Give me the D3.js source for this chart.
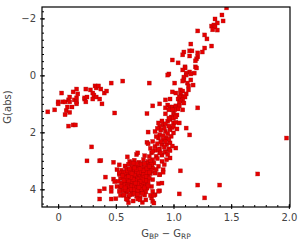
<!DOCTYPE html>
<html>
<head>
<meta charset="utf-8">
<script src="https://cdn.jsdelivr.net/npm/d3@7"></script>
<style>
body { margin: 0; background: #fff; }
svg text { font-family: "DejaVu Sans", sans-serif; fill: #444; }
</style>
</head>
<body>
<svg width="300" height="240"></svg>
<script>
"use strict";

// [G_BP - G_RP, G(abs)]
var horizontalBranch = [
    [-0.09,1.28],[-0.03,1.21],[0.00,0.93],[0.00,1.00],[0.03,0.62],[0.04,0.93],[0.06,0.93],[0.06,1.38],
    [0.07,1.24],[0.08,1.11],[0.09,0.86],[0.09,1.78],[0.10,1.30],[0.10,0.93],[0.10,0.76],[0.12,1.11],
    [0.13,0.58],[0.13,1.74],[0.15,1.74],[0.14,0.86],[0.16,0.48],[0.16,0.79],[0.16,0.93],[0.16,1.00],
    [0.17,0.65],[0.23,0.83],[0.23,0.79],[0.24,0.48],[0.24,0.93],[0.25,0.76],[0.28,0.51],[0.30,0.62],
    [0.30,0.83],[0.31,0.69],[0.32,0.37],[0.33,0.44],[0.35,0.37],[0.33,0.76],[0.36,0.83],[0.37,0.48],
    [0.38,1.00],[0.40,0.62],[0.42,0.55],[0.46,0.27],[0.49,1.32],[0.56,0.20],[0.77,1.34],[0.79,0.27],
    [0.78,1.99]
];

var giants = [
    [1.46,-2.37],[1.42,-2.12],[1.36,-1.98],[1.43,-1.91],[1.38,-1.84],[1.33,-1.73],[1.35,-1.77],[1.36,-1.70],
    [1.34,-1.60],[1.38,-1.59],[1.21,-1.56],[1.27,-1.42],[1.29,-1.28],[1.15,-1.10],[1.33,-1.03],[1.27,-0.96],
    [1.14,-0.86],[1.16,-0.86],[1.09,-0.82],[1.21,-0.79],[1.25,-0.82],[1.08,-0.72],[1.14,-0.68],[1.21,-0.65],
    [1.20,-0.58],[1.19,-0.51],[0.99,-0.54],[1.04,-0.44],[1.10,-0.30],[1.10,-0.26],[1.19,-0.30],[1.20,-0.26],
    [1.08,-0.19],[1.14,-0.12],[1.18,-0.08],[1.15,-0.05],[1.11,-0.08],[1.11,-0.01],[0.96,-0.05],[0.95,-0.01],
    [1.09,0.06],[1.09,0.16],[1.08,0.20],[1.15,0.16],[1.01,0.27],[1.12,0.27],[1.13,0.37],[1.17,0.34],
    [1.13,0.51],[1.06,0.51],[1.08,0.55],[0.99,0.58],[1.02,0.62],[1.11,0.65],[1.06,0.65],[1.07,0.72],
    [1.08,0.76],[1.05,0.76],[1.10,0.76],[1.04,0.83],[1.08,0.86],[1.06,0.90],[0.93,0.86],[0.97,0.83],
    [1.09,0.97],[0.88,1.00],[0.82,1.07],[0.95,1.04],[0.97,1.11],[0.99,1.11],[1.02,1.07],[1.05,0.97],
    [1.05,1.07],[1.02,1.14],[1.04,1.18],[1.01,1.21],[1.08,1.21],[0.93,1.14],[0.96,1.21],[0.99,1.21],
    [0.93,1.35],[1.00,1.35],[1.01,1.39],[1.03,1.39],[0.98,1.46],[0.96,1.50],[1.00,1.50],[1.02,1.46]
];

var mainSeq = [
    [0.95,1.61],[0.97,1.55],[1.00,1.67],[1.02,1.65],[1.05,1.67],[0.91,1.73],[0.88,1.79],[0.87,1.67],
    [0.84,1.97],[0.93,1.97],[0.97,1.91],[1.00,2.02],[0.98,2.14],[0.94,2.20],[0.91,2.26],[0.88,2.08],
    [0.87,2.20],[0.82,2.32],[0.84,2.49],[0.90,2.43],[0.94,2.43],[0.97,2.37],[1.02,2.55],[0.93,2.67],
    [0.88,2.72],[0.85,2.84],[0.81,2.72],[0.82,2.96],[0.90,3.02],[0.94,2.96],[0.97,2.90],[0.87,3.19],
    [0.91,3.31],[0.81,3.19],[0.84,3.43],[0.88,3.48],[0.82,3.66],[0.87,3.80],[0.81,3.90],[0.82,4.07],
    [0.88,4.05],[0.84,4.19],[0.81,4.30],[0.82,4.42],
    [0.90,1.60],[0.93,1.70],[0.96,1.78],[0.99,1.83],[0.92,1.85],[0.89,1.92],[0.95,2.05],[0.91,2.12],
    [0.85,2.15],[0.96,2.25],[0.89,2.33],[0.86,2.40],[0.92,2.52],[0.88,2.58],[0.84,2.63],[0.80,2.56],
    [0.96,2.58],[0.90,2.80],[0.86,2.92],[0.79,2.85],[0.83,3.08],[0.92,3.13],[0.78,3.02],[0.85,3.30],
    [0.80,3.38],[1.00,1.78],[1.03,1.88],[0.86,1.86],[0.93,2.33],[0.99,2.48]
];

var turnoff = [
    [0.62,3.02],[0.66,2.98],[0.70,3.05],[0.74,2.96],[0.77,3.08],[0.80,3.00],[0.72,3.10],
    [0.58,3.18],[0.61,3.12],[0.64,3.22],[0.67,3.15],[0.70,3.20],[0.72,3.14],[0.75,3.23],[0.78,3.16],[0.81,3.12],
    [0.55,3.33],[0.59,3.28],[0.62,3.36],[0.64,3.30],[0.66,3.38],[0.69,3.27],[0.71,3.35],[0.73,3.29],
    [0.76,3.37],[0.79,3.31],[0.82,3.26],
    [0.53,3.47],[0.56,3.42],[0.59,3.51],[0.61,3.44],[0.63,3.53],[0.65,3.46],[0.67,3.41],[0.69,3.50],
    [0.71,3.44],[0.73,3.52],[0.75,3.43],[0.78,3.49],[0.80,3.45],
    [0.54,3.62],[0.57,3.58],[0.60,3.66],[0.62,3.57],[0.64,3.64],[0.66,3.60],[0.68,3.68],[0.70,3.56],
    [0.72,3.63],[0.74,3.59],[0.77,3.67],[0.79,3.61],
    [0.55,3.78],[0.58,3.72],[0.60,3.82],[0.62,3.75],[0.64,3.80],[0.66,3.73],[0.68,3.83],[0.70,3.76],
    [0.72,3.71],[0.75,3.81],[0.78,3.74],
    [0.54,3.93],[0.57,3.88],[0.60,3.97],[0.62,3.90],[0.65,3.95],[0.67,3.87],[0.69,3.99],[0.71,3.92],
    [0.74,3.86],[0.77,3.96],
    [0.56,4.05],[0.59,4.11],[0.62,4.03],[0.64,4.13],[0.67,4.07],[0.70,4.12],[0.73,4.04],[0.76,4.09],
    [0.57,4.21],[0.61,4.27],[0.64,4.18],[0.68,4.24],[0.71,4.29],[0.75,4.20],
    [0.60,4.36],[0.65,4.41],[0.69,4.34],[0.73,4.46],
    [0.63,3.49],[0.65,3.55],[0.67,3.62],[0.69,3.57],[0.66,3.70],[0.68,3.76],[0.64,3.69],[0.70,3.66],
    [0.71,3.53],[0.67,3.51],[0.65,3.84],[0.69,3.87],[0.62,3.61],[0.72,3.79],[0.68,3.45],[0.66,3.48],
    [0.70,3.70],[0.63,3.78],[0.67,3.93],[0.61,3.85],
    [0.75,2.82],[0.82,2.67],[0.87,2.61],[0.89,2.72],[0.93,2.70],[0.95,2.78],[0.97,2.64],[0.90,3.78],
    [0.88,3.49],[0.91,3.40],[0.71,4.37],[0.76,4.37],[0.80,4.21],[0.83,4.21],[0.87,4.07],[0.83,4.48],
    [0.51,3.31],[0.53,3.42],[0.52,3.72],[0.55,3.89],[0.53,4.07],[0.57,4.19],[0.59,4.34],[0.64,3.07],
    [0.58,3.40],[0.60,3.35],[0.63,3.40],[0.66,3.33],[0.68,3.38],[0.70,3.42],[0.72,3.40],[0.74,3.47],
    [0.77,3.42],[0.76,3.55],[0.73,3.58],[0.71,3.61],[0.69,3.64],[0.67,3.70],[0.65,3.75],[0.63,3.72],
    [0.61,3.70],[0.59,3.60],[0.57,3.68],[0.56,3.52],[0.58,3.85],[0.60,3.90],[0.62,3.95],[0.64,3.88],
    [0.66,3.91],[0.68,3.95],[0.70,3.85],[0.72,3.87],[0.74,3.75],[0.76,3.70],[0.73,3.67],[0.71,3.73],
    [0.69,3.80],[0.67,3.78],[0.65,3.65],[0.63,3.58],[0.61,3.55],[0.64,3.45],[0.68,3.30],[0.74,3.33],
    [0.77,3.28],[0.79,3.20],[0.81,3.35],[0.79,3.40],[0.63,4.00],[0.66,4.02],[0.69,4.05],[0.72,4.00],
    [0.60,4.05],[0.58,4.00],[0.66,4.15],[0.62,4.20],[0.69,4.18],[0.73,4.15],[0.58,3.95],[0.70,3.93],
    [0.75,3.95],[0.78,3.88],[0.66,3.25],[0.62,3.28],[0.71,3.28],[0.75,3.10],[0.68,3.10],[0.65,3.08]
];

var field = [
    [0.29,2.51],[0.25,3.00],[0.36,3.00],[0.37,2.99],[0.48,3.05],[0.60,2.86],[0.53,3.14],[0.41,3.57],
    [0.48,3.64],[0.49,3.73],[0.36,4.06],[0.40,3.98],[0.46,3.93],[0.46,4.07],[0.36,4.34],[0.46,4.34],
    [0.50,4.33],[0.51,3.90],[0.61,4.47],[0.54,4.21],[0.68,2.78],[0.69,2.72],[0.77,2.35],[0.78,2.40],
    [1.98,2.20],[1.11,1.85],[1.14,2.09],[1.06,3.35],[1.73,3.46],[1.21,3.85],[1.40,3.85],[1.05,4.16],
    [1.27,4.30],[1.21,1.14]
];

var xTicks = [0, 0.5, 1.0, 1.5, 2.0];
var yTicks = [-2, 0, 2, 4];

var margin = {top: 7, right: 10, bottom: 33, left: 42};
var width = 300 - margin.left - margin.right;
var height = 240 - margin.top - margin.bottom;

var svg = d3.select("svg");
var g = svg.append("g").attr("transform", "translate(" + margin.left + "," + margin.top + ")");

var x = d3.scaleLinear().domain([-0.14, 2.01]).range([0, width]);
var y = d3.scaleLinear().domain([-2.4, 4.62]).range([0, height]);

g.append("clipPath").attr("id", "plotclip")
    .append("rect").attr("width", width).attr("height", height);

var stars = [].concat(horizontalBranch, field, mainSeq, giants, turnoff);
var size = 4;

g.append("g").attr("clip-path", "url(#plotclip)")
    .selectAll("rect")
    .data(stars)
    .enter().append("rect")
    .attr("x", function(d) { return x(d[0]) - size / 2; })
    .attr("y", function(d) { return y(d[1]) - size / 2; })
    .attr("width", size)
    .attr("height", size)
    .attr("fill", "#e60000")
    .attr("stroke", "#a00000")
    .attr("stroke-opacity", 0.6)
    .attr("stroke-width", 0.5);

// minor ticks, inward
g.append("g")
    .attr("transform", "translate(0," + height + ")")
    .call(d3.axisBottom(x).tickValues(d3.range(-0.1, 2.01, 0.1)).tickSize(-2).tickFormat(""))
    .call(function(a) { a.select(".domain").remove(); });

g.append("g")
    .call(d3.axisLeft(y).tickValues(d3.range(-2.25, 4.62, 0.25)).tickSize(-2).tickFormat(""))
    .call(function(a) { a.select(".domain").remove(); });

// major ticks, crossing the spine
var xAxis = g.append("g")
    .attr("transform", "translate(0," + height + ")")
    .call(d3.axisBottom(x).tickValues(xTicks).tickSize(2).tickPadding(5)
        .tickFormat(function(d) { return d === 0 ? "0" : d3.format(".1f")(d); }));
xAxis.select(".domain").remove();
xAxis.selectAll(".tick line").attr("y1", -3);

var yAxis = g.append("g")
    .call(d3.axisLeft(y).tickValues(yTicks).tickSize(2).tickPadding(4).tickFormat(d3.format("d")));
yAxis.select(".domain").remove();
yAxis.selectAll(".tick line").attr("x1", 3);

g.selectAll(".tick line").attr("stroke", "#000");
g.selectAll(".tick text").attr("font-size", 10).attr("font-family", null).attr("fill", "#444");

g.append("rect")
    .attr("width", width)
    .attr("height", height)
    .attr("fill", "none")
    .attr("stroke", "#000")
    .attr("stroke-width", 1.2);

svg.append("text")
    .attr("transform", "translate(11," + (margin.top + height / 2) + ") rotate(-90)")
    .attr("text-anchor", "middle")
    .attr("font-size", 10)
    .text("G(abs)");

var xl = svg.append("text")
    .attr("x", margin.left + width / 2)
    .attr("y", 236.5)
    .attr("text-anchor", "middle")
    .attr("font-size", 10);
xl.append("tspan").text("G");
xl.append("tspan").attr("font-size", 7.5).attr("dy", 2).text("BP");
xl.append("tspan").attr("dy", -2).text(" \u2212 G");
xl.append("tspan").attr("font-size", 7.5).attr("dy", 2).text("RP");
</script>
</body>
</html>
